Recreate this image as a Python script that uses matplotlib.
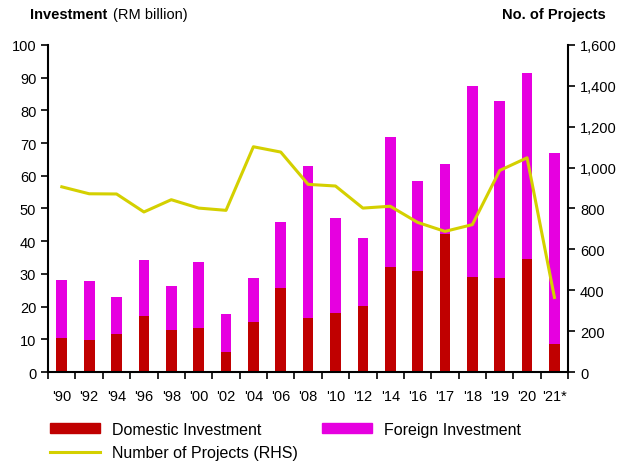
import matplotlib
matplotlib.use("Agg")
import matplotlib.pyplot as plt
import numpy as np
from matplotlib.patches import Patch
from matplotlib.lines import Line2D

plt.rcParams['font.family'] = ['Liberation Sans', 'DejaVu Sans']

years = ["'90", "'92", "'94", "'96", "'98", "'00", "'02", "'04", "'06", "'08",
         "'10", "'12", "'14", "'16", "'17", "'18", "'19", "'20", "'21*"]
domestic = [10.3, 9.7, 11.5, 17.1, 13.0, 13.6, 6.0, 15.3, 25.6, 16.5,
            18.0, 20.1, 32.0, 30.9, 42.1, 29.2, 28.7, 34.6, 8.5]
total = [28.0, 27.7, 22.8, 34.3, 26.3, 33.6, 17.8, 28.7, 46.0, 62.9,
         47.0, 41.0, 71.9, 58.4, 63.6, 87.3, 82.8, 91.4, 66.9]
foreign = [t - d for t, d in zip(total, domestic)]
projects = [906, 872, 871, 783, 843, 802, 791, 1102, 1076, 918,
            910, 802, 811, 732, 688, 721, 986, 1048, 365]

c_dom = '#C00000'
c_for = '#E600E0'
c_line = '#D4D000'

fig = plt.figure(figsize=(6.25, 4.64), dpi=100)
ax = fig.add_axes([0.077, 0.196, 0.832, 0.705])
x = np.arange(len(years))
w = 0.39
ax.bar(x, domestic, width=w, color=c_dom, zorder=2)
ax.bar(x, foreign, width=w, bottom=domestic, color=c_for, zorder=2)
ax.set_xlim(-0.5, len(years) - 0.5)
ax.set_ylim(0, 100)
ax.set_yticks(np.arange(0, 101, 10))
ax.set_xticks(x)
ax.set_xticklabels(years)
ax.set_xticks(np.arange(-0.5, len(years), 1), minor=True)
ax.tick_params(axis='x', which='major', length=0, pad=12, labelsize=10.5)
ax.tick_params(axis='x', which='minor', length=5, direction='out', width=1.2)
ax.tick_params(axis='y', length=5, direction='out', width=1.2, labelsize=10.5)
for s in ['top', 'right']:
    ax.spines[s].set_visible(False)
for s in ['left', 'bottom']:
    ax.spines[s].set_linewidth(1.5)

ax2 = ax.twinx()
ax2.plot(x, projects, color=c_line, lw=2.2, zorder=3)
ax2.set_ylim(0, 1600)
ax2.set_yticks(np.arange(0, 1601, 200))
ax2.set_yticklabels([f'{v:,}' for v in range(0, 1601, 200)])
ax2.tick_params(axis='y', length=5, direction='out', width=1.2, labelsize=10.5)
for s in ['top', 'left', 'bottom']:
    ax2.spines[s].set_visible(False)
ax2.spines['right'].set_linewidth(1.5)

t1 = fig.text(30 / 625, 1 - 15 / 464, 'Investment', fontsize=10.5, fontweight='bold', va='center')
ax.annotate('(RM billion)', xy=(1, 0.5), xycoords=t1, xytext=(4, 0), textcoords='offset points',
            fontsize=10.5, va='center', ha='left')
fig.text(606 / 625, 1 - 15 / 464, 'No. of Projects', fontsize=10.5, fontweight='bold',
         va='center', ha='right')

handles = [Patch(color=c_dom, label='Domestic Investment'),
           Line2D([0], [0], color=c_line, lw=2.2, label='Number of Projects (RHS)'),
           Patch(color=c_for, label='Foreign Investment')]
fig.legend(handles=handles, loc='upper left', bbox_to_anchor=(50 / 625, 1 - 423 / 464), ncol=2,
           frameon=False, fontsize=11.5, handlelength=3.1, handleheight=0.56,
           columnspacing=1.5, labelspacing=0.5, handletextpad=0.8,
           borderpad=0, borderaxespad=0)

fig.savefig('out.png', dpi=100)
